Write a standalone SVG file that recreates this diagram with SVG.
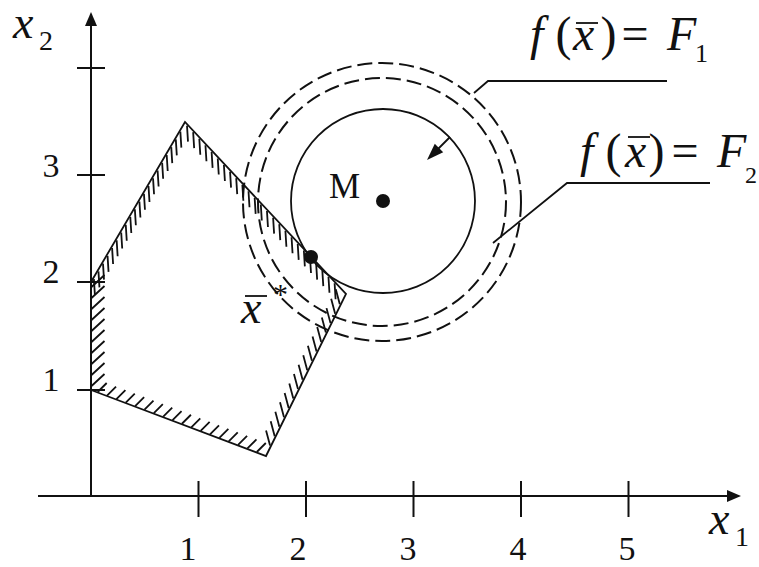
<svg xmlns="http://www.w3.org/2000/svg" width="759" height="567" viewBox="0 0 759 567">
<style>
.ln{stroke:#111;fill:none;stroke-width:1.8}
.ax{stroke:#111;fill:none;stroke-width:2}
.hat{stroke:#111;fill:none;stroke-width:1.8;stroke-linecap:butt}
.dash{stroke:#111;fill:none;stroke-width:2;stroke-dasharray:15 6}
.t{font-family:"Liberation Serif","Times New Roman",serif;fill:#111}
.it{font-style:italic}
</style>
<rect width="759" height="567" fill="#fff"/>
<g id="axes">
<line class="ax" x1="91" y1="496" x2="91" y2="22"/>
<polygon points="91,12 85,26 97,26" fill="#111"/>
<line class="ax" x1="38" y1="496" x2="730" y2="496"/>
<polygon points="741,496 727,490 727,502" fill="#111"/>
<path class="ax" d="M77 68H105M77 175H105M77 282H105M77 390H105M198.5 481V517M306 481V517M413.5 481V517M521 481V517M628.5 481V517"/>
<text class="t it" x="13" y="38" font-size="46">x</text>
<text class="t" x="39" y="50" font-size="28">2</text>
<text class="t it" x="709" y="534" font-size="46">x</text>
<text class="t" x="735" y="546" font-size="28">1</text>
<g class="t" font-size="34" text-anchor="middle">
<text x="51" y="177">3</text><text x="51" y="283">2</text><text x="51" y="391">1</text>
<text x="188" y="560">1</text><text x="298" y="560">2</text><text x="408" y="560">3</text><text x="518" y="560">4</text><text x="627" y="560">5</text>
</g>
</g>
<g id="region">
<polygon class="ln" points="91,282 185,122 346,294 266,456 91,390"/>
<path class="hat" d="M93.9 279.1l1 16m3.55-23.76l1 16m3.55-23.76l1 16m3.55-23.76l1 16m3.55-23.76l1 16m3.55-23.76l1 16m3.55-23.76l1 16m3.55-23.76l1 16m3.55-23.76l1 16m3.55-23.76l1 16m3.55-23.76l1 16m3.55-23.76l1 16m3.55-23.76l1 16m3.55-23.76l1 16m3.55-23.76l1 16m3.55-23.76l1 16m3.55-23.76l1 16m3.55-23.76l1 16m3.55-23.76l1 16m3.55-23.76l1 16"/>
<path class="hat" d="M187 125.6l1 16m5.15-9.43l1 16m5.15-9.43l1 16m5.15-9.43l1 16m5.15-9.43l1 16m5.15-9.43l1 16m5.15-9.43l1 16m5.15-9.43l1 16m5.15-9.43l1 16m5.15-9.43l1 16m5.15-9.43l1 16m5.15-9.43l1 16m5.15-9.43l1 16m5.15-9.43l1 16m5.15-9.43l1 16m5.15-9.43l1 16m5.15-9.43l1 16m5.15-9.43l1 16m5.15-9.43l1 16m5.15-9.43l1 16m5.15-9.43l1 16m5.15-9.43l1 16m5.15-9.43l1 16m5.15-9.43l1 16m5.15-9.43l1 16"/>
<path class="hat" d="M339.8 304.3l-4-15m-0.65 24.42l-4-15m-0.65 24.42l-4-15m-0.65 24.42l-4-15m-0.65 24.42l-4-15m-0.65 24.42l-4-15m-0.65 24.42l-4-15m-0.65 24.42l-4-15m-0.65 24.42l-4-15m-0.65 24.42l-4-15m-0.65 24.42l-4-15m-0.65 24.42l-4-15m-0.65 24.42l-4-15m-0.65 24.42l-4-15m-0.65 24.42l-4-15m-0.65 24.42l-4-15"/>
<path class="hat" d="M256.8 452l9-9m-18.36 5.47l9-9m-18.36 5.47l9-9m-18.36 5.47l9-9m-18.36 5.47l9-9m-18.36 5.47l9-9m-18.36 5.47l9-9m-18.36 5.47l9-9m-18.36 5.47l9-9m-18.36 5.47l9-9m-18.36 5.47l9-9m-18.36 5.47l9-9m-18.36 5.47l9-9m-18.36 5.47l9-9m-18.36 5.47l9-9m-18.36 5.47l9-9m-18.36 5.47l9-9m-18.36 5.47l9-9"/>
<path class="hat" d="M91.5 386l13-12m-13 1l13-12m-13 1l13-12m-13 1l13-12m-13 1l13-12m-13 1l13-12m-13 1l13-12m-13 1l13-12m-13 1l13-12m-13 1l13-12"/>
</g>
<g id="level-lines">
<circle class="dash" cx="382" cy="202" r="139"/>
<circle class="dash" cx="382" cy="202" r="124"/>
<circle class="ln" cx="383" cy="201" r="92"/>
</g>
<g id="point-M">
<circle cx="383" cy="201" r="7" fill="#111"/>
<text class="t" x="329" y="198" font-size="35">M</text>
</g>
<g id="point-xstar">
<circle cx="311" cy="257" r="7" fill="#111"/>
<text class="t it" x="241" y="323" font-size="46">x</text>
<line class="ln" x1="245" y1="296" x2="267" y2="296" stroke-width="1.6"/>
<text class="t" x="273" y="304" font-size="30">*</text>
</g>
<g id="label-F1" class="t" font-size="48">
<text class="it" x="530" y="50">f</text>
<text x="555.5" y="50">(</text>
<text class="it" x="573" y="50">x</text>
<line class="ln" x1="576" y1="23" x2="598" y2="23" stroke-width="1.6"/>
<text x="600.5" y="50">)</text>
<text x="621.5" y="50">=</text>
<text class="it" x="667" y="50">F</text>
<text x="695" y="62" font-size="26">1</text>
</g>
<g id="label-F2" class="t" font-size="48">
<text class="it" x="580" y="167">f</text>
<text x="605.5" y="167">(</text>
<text class="it" x="625" y="167">x</text>
<line class="ln" x1="628" y1="137" x2="650" y2="137" stroke-width="1.6"/>
<text x="648.5" y="167">)</text>
<text x="671.5" y="167">=</text>
<text class="it" x="717" y="167">F</text>
<text x="745" y="183" font-size="24">2</text>
</g>
<g id="connectors">
<polyline class="ln" stroke-width="1.6" points="474,93 488,81 667,81"/>
<polyline class="ln" stroke-width="1.6" points="493,243 567,183 710,183"/>
<line class="ln" x1="450" y1="137" x2="437" y2="150"/>
<polygon points="427,160 434.8,143.8 443.2,152.2" fill="#111"/>
</g>
</svg>
